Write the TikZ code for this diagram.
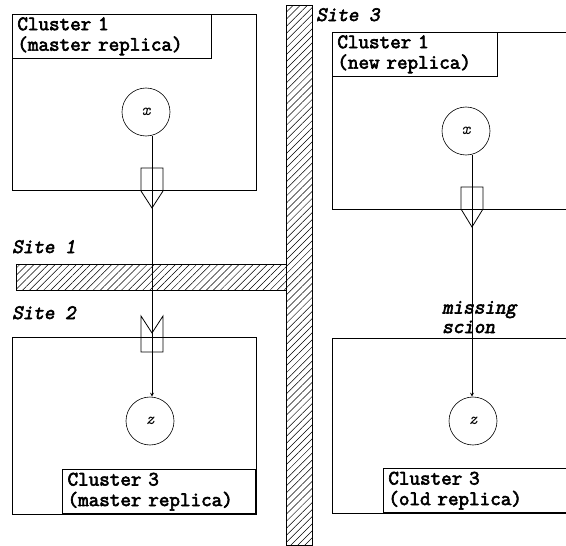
\documentclass[tikz,border=0pt]{standalone}
\usepackage{fontspec}
\setmonofont{Latin Modern Mono}[AutoFakeBold=3]
\newfontfamily\sitefont{Latin Modern Mono}[FakeBold=3, FakeSlant=0.2]
\usetikzlibrary{patterns.meta}
\usetikzlibrary{positioning}
\tikzset{
    % Small solid arrow heads
    >=stealth,
%
    % The outline of a cluster
    cluster box/.style={draw, line width=.8pt},
%
    % The caption box sitting in a corner of a cluster
    cluster label/.style={draw, line width=.8pt, align=left,
        inner xsep=5pt, inner ysep=3pt,
        font=\ttfamily\bfseries\fontsize{20.5}{20.5}\selectfont},
%
    % A replica of an object
    replica/.style={draw, circle, line width=.6pt, minimum size=48pt,
        inner sep=0, font=\ttfamily\itshape\fontsize{17}{17}\selectfont},
%
    % Names of the sites
    site label/.style={anchor=base west, inner sep=0, align=left,
        font=\sitefont\fontsize{20.5}{19.5}\selectfont},
%
    % Hatched walls between the sites
    wall/.style={draw, line width=.8pt,
        pattern={Lines[angle=45, distance=5pt, line width=.5pt]}},
%
    % The stub and scion tags on a reference
    tag/.style={draw, line width=.8pt}}

\begin{document}
\begin{tikzpicture}[x=1pt, y=-1pt]
\useasboundingbox (0,0) rectangle (566,546);

% walls between the sites
\draw[wall] (286,5) rectangle (312,545);
\draw[wall] (16,264) rectangle (286,290);

\node[site label] (site1) at (12,253) {Site 1};
\node[site label] (site2) at (12,319) {Site 2};
\node[site label] (site3) at (316,21) {Site 3};

% Site 1: the master replica of cluster 1
\draw[cluster box] (12,14) rectangle (256,190);
\node[cluster label, anchor=north west, text width=189pt]
    (c1 master label) at (12,14) {Cluster 1\\(master replica)};
\node[replica] (x1) at (146,112) {x};
\coordinate (stub1) at (152,208);
\draw[tag] (141,168) -- (163,168) -- (163,191) -- (stub1)
    -- (141,191) -- cycle;

% Site 2: the master replica of cluster 3
\draw[cluster box] (12,337) rectangle (256,514);
\node[cluster label, anchor=south east, text width=183pt]
    (c3 master label) at (256,514) {Cluster 3\\(master replica)};
\node[replica] (z1) at (150,421) {z};
\coordinate (scion1) at (152,333);
\draw[tag] (141,316) -- (141,352) -- (163,352) -- (163,316)
    -- (scion1) -- cycle;

\draw[->, line width=.8pt] (x1.south -| stub1) -- (z1.north -| stub1);

% Site 3: the new replica of cluster 1 and the old one of cluster 3
\draw[cluster box] (332,32) rectangle (600,209);
\node[cluster label, anchor=north west, text width=155pt]
    (c1 new label) at (332,32) {Cluster 1\\(new replica)};
\node[replica] (x2) at (466,131) {x};
\coordinate (stub2) at (472,227);
\draw[tag] (461,187) -- (483,187) -- (483,209) -- (stub2)
    -- (461,209) -- cycle;

\draw[cluster box] (332,338) rectangle (600,513);
\node[cluster label, anchor=south west, text width=230pt]
    (c3 old label) at (383,513) {Cluster 3\\(old replica)};
\node[replica] (z2) at (473,421) {z};

\draw[->, line width=.8pt] (x2.south -| stub2) -- (z2.north -| stub2);
\node[site label] (missing) at (442,333) {missing\\scion};

\end{tikzpicture}
\end{document}
